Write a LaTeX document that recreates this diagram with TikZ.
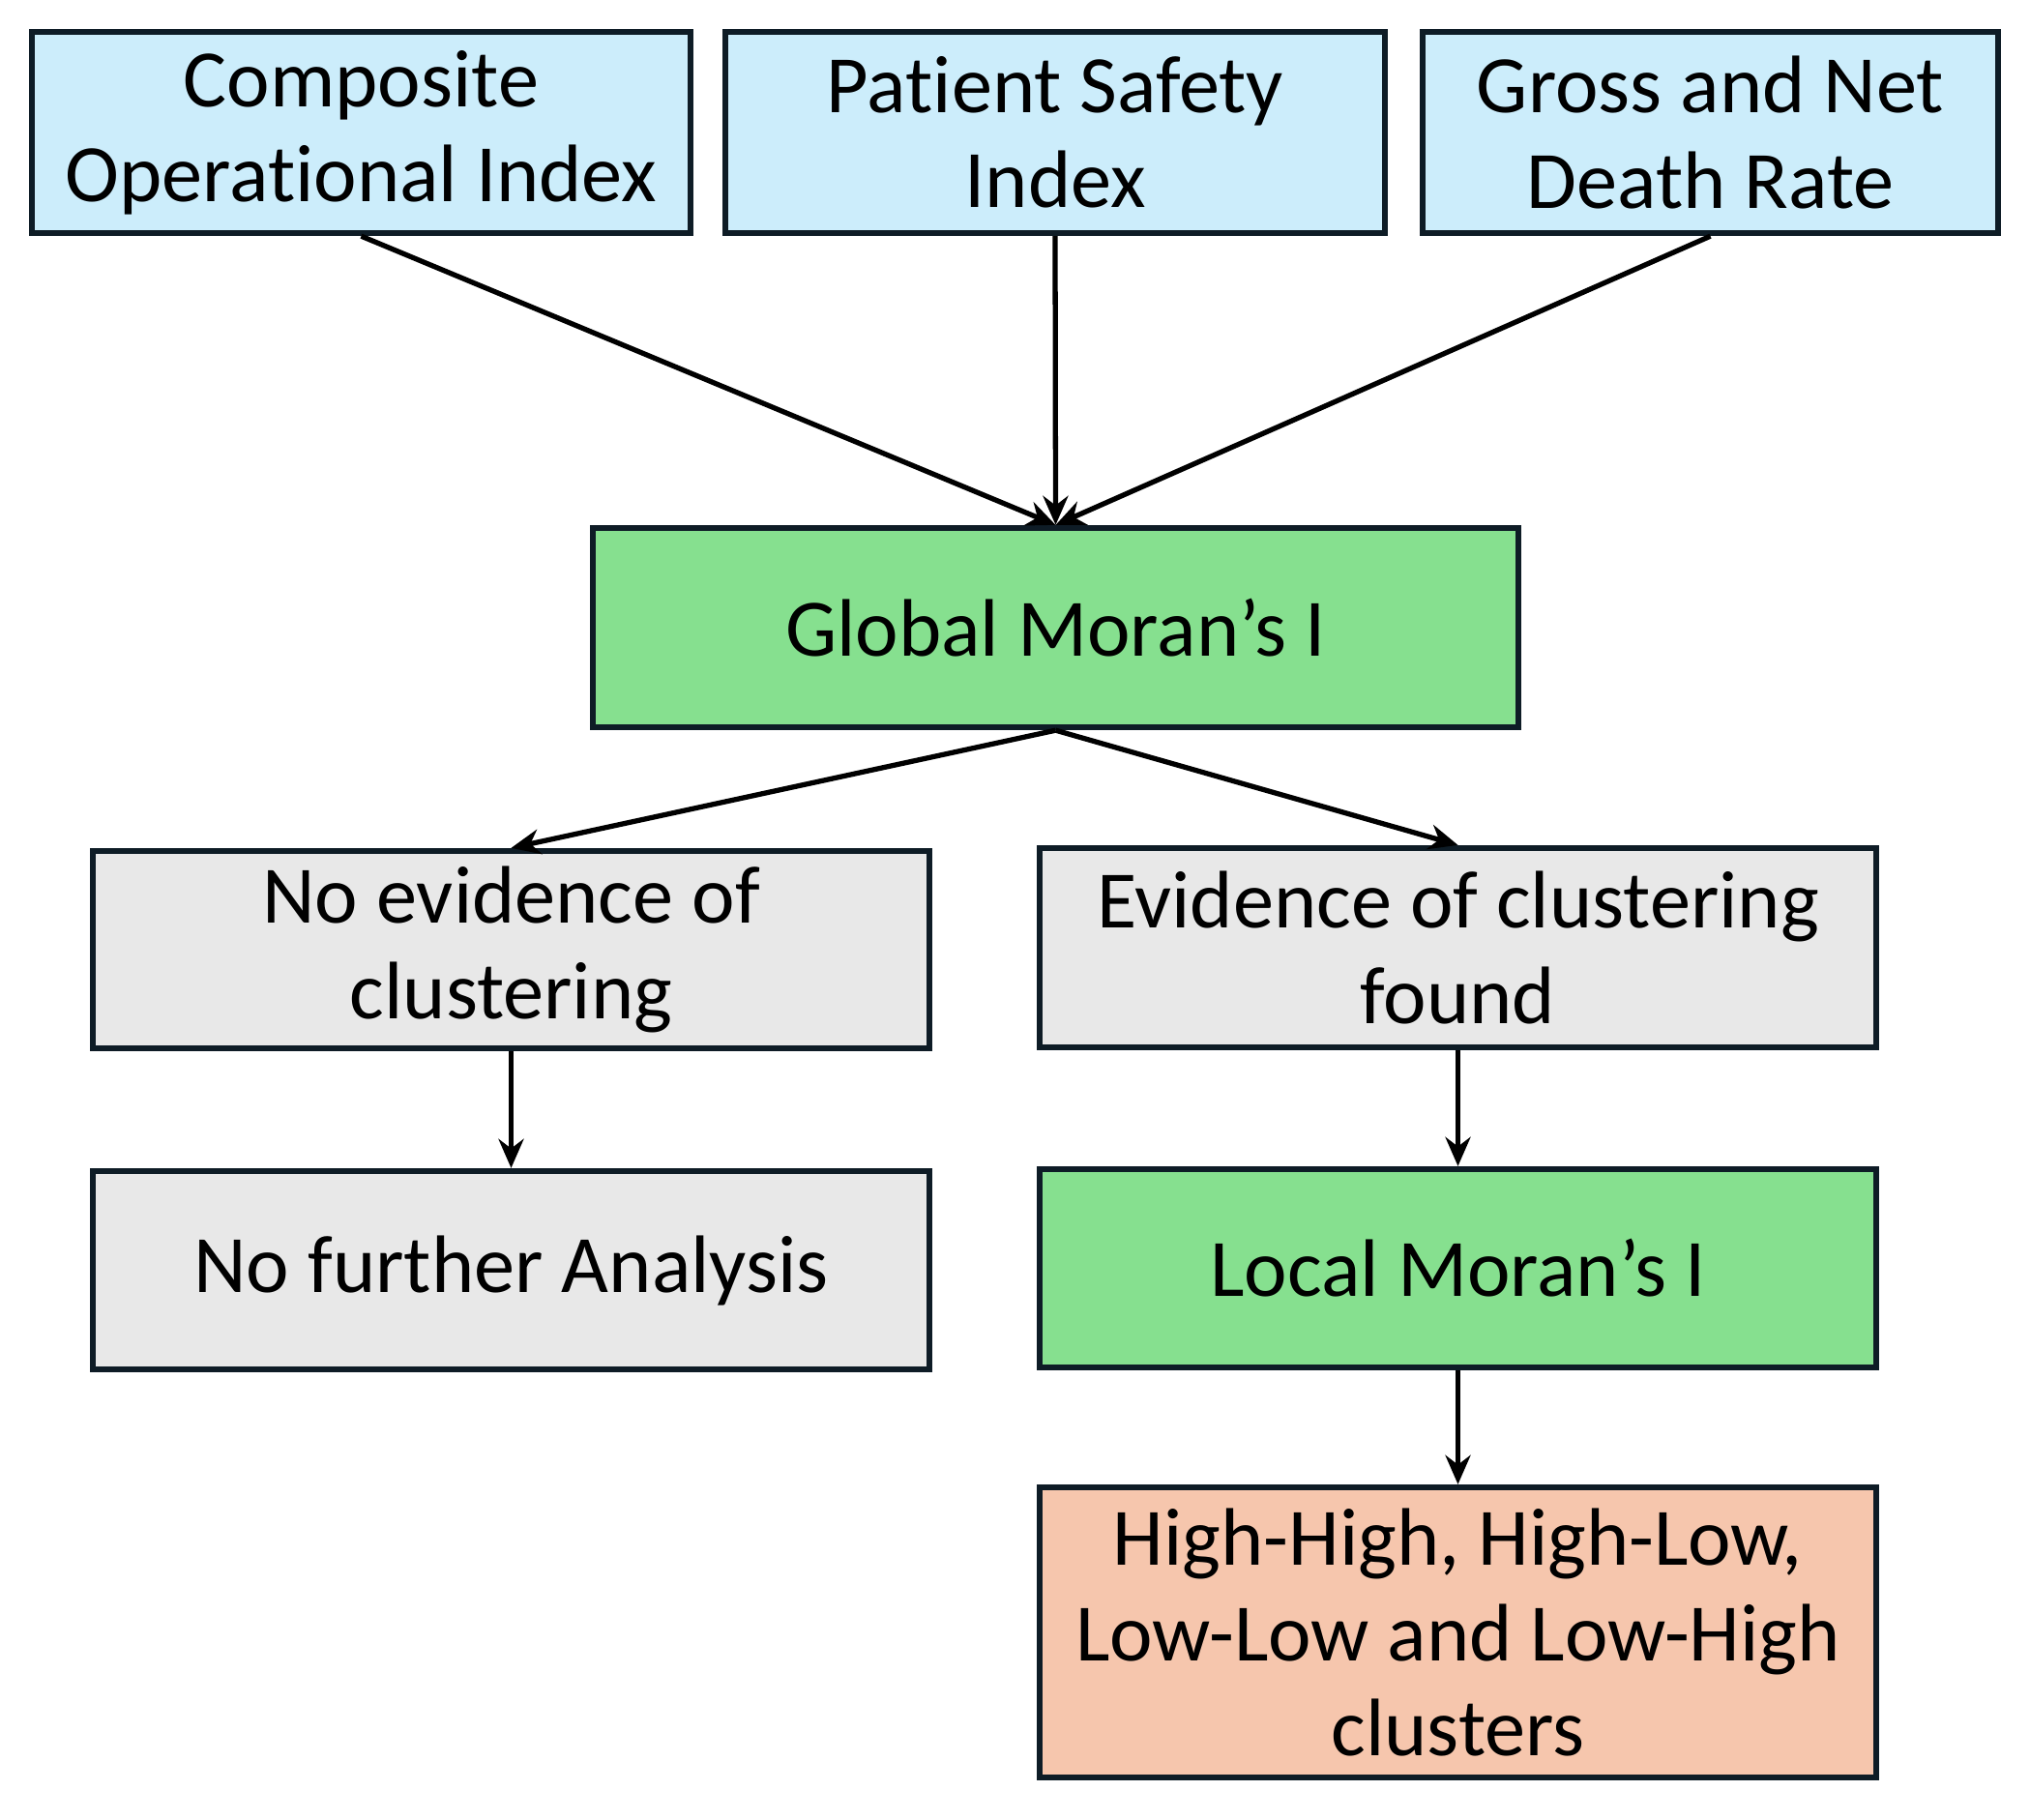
\documentclass[tikz,border=0pt]{standalone}
\usepackage{fontspec}
\setmainfont{Carlito}[Ligatures=NoCommon]
\usetikzlibrary{arrows.meta}
\definecolor{borde}{RGB}{14,28,38}
\definecolor{celeste}{RGB}{204,237,251}
\definecolor{verde}{RGB}{134,224,143}
\definecolor{gris}{RGB}{232,232,232}
\definecolor{salmon}{RGB}{246,198,173}
\tikzset{
  >={Stealth[length=3mm, width=2.6mm]},
  caja/.style={draw=borde, line width=1.8pt, align=center, inner sep=0pt,
    minimum width=8.65cm, minimum height=2.05cm,
    font=\fontsize{24}{28}\selectfont},
  flecha/.style={->, line width=1.5pt},
}
\begin{document}
\begin{tikzpicture}
  \useasboundingbox (0,0) rectangle (20.99,-18.81);
  % indices de entrada
  \node[caja, fill=celeste, minimum width=6.81cm, minimum height=2.08cm] (comp) at (3.735,-1.37) {Composite\\Operational Index};
  \node[caja, fill=celeste, minimum width=6.82cm, minimum height=2.08cm] (pat) at (10.91,-1.37) {Patient Safety\\Index};
  \node[caja, fill=celeste, minimum width=5.95cm, minimum height=2.08cm] (gross) at (17.685,-1.37) {Gross and Net\\Death Rate};
  \node[caja, fill=verde, minimum width=9.57cm, minimum height=2.06cm] (glob) at (10.915,-6.49) {Global Moran’s I};
  % ramas
  \node[caja, fill=gris, minimum height=2.04cm] (noev) at (5.285,-9.82) {No evidence of\\clustering};
  \node[caja, fill=gris, minimum height=2.06cm] (ev) at (15.075,-9.80) {Evidence of clustering\\found};
  \node[caja, fill=gris] (nofur) at (5.285,-13.135) {No further Analysis};
  \node[caja, fill=verde] (local) at (15.075,-13.115) {Local Moran’s I};
  \node[caja, fill=salmon, minimum height=3.0cm] (high) at (15.075,-16.88) {High-High, High-Low,\\Low-Low and Low-High\\clusters};
  \draw[flecha] (comp.south) -- (glob.north);
  \draw[flecha] (pat.south) -- (glob.north);
  \draw[flecha] (gross.south) -- (glob.north);
  \draw[flecha] (glob.south) -- (noev.north);
  \draw[flecha] (glob.south) -- (ev.north);
  \draw[flecha] (noev.south) -- (nofur.north);
  \draw[flecha] (ev.south) -- (local.north);
  \draw[flecha] (local.south) -- (high.north);
\end{tikzpicture}
\end{document}
